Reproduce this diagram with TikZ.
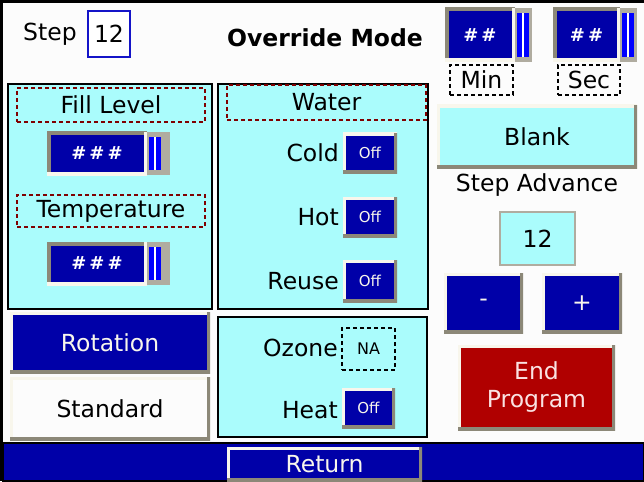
\documentclass[tikz,border=0pt]{standalone}
\usepackage{fontspec}
\setmainfont{DejaVu Sans}
\usetikzlibrary{positioning}

\definecolor{panelcyan}{RGB}{170,252,252}
\definecolor{hmiblue}{RGB}{0,0,168}
\definecolor{barblue}{RGB}{0,0,255}
\definecolor{hmired}{RGB}{176,0,0}
\definecolor{screenbg}{RGB}{252,252,252}
\definecolor{edgelight}{RGB}{248,246,236}
\definecolor{edgedark}{RGB}{140,136,120}
\definecolor{framegray}{RGB}{176,172,160}
\definecolor{dashred}{RGB}{128,0,0}
\definecolor{stepblue}{RGB}{20,20,200}
\definecolor{endtext}{RGB}{250,226,226}

\tikzset{
  every node/.style={font=\fontsize{23.5}{28}\selectfont,inner sep=0pt},
  bevel/.style={path picture={
    \draw[edgelight,line width=6pt] (path picture bounding box.south west) -- (path picture bounding box.north west) -- (path picture bounding box.north east);
    \draw[edgedark,line width=6pt] (path picture bounding box.north east) -- (path picture bounding box.south east) -- (path picture bounding box.south west);
  }},
  sunken/.style={path picture={
    \draw[edgedark,line width=7pt] (path picture bounding box.south west) -- (path picture bounding box.north west) -- (path picture bounding box.north east);
    \draw[edgelight,line width=7pt] (path picture bounding box.north east) -- (path picture bounding box.south east) -- (path picture bounding box.south west);
  }},
  panel/.style={shape=rectangle,fill=panelcyan,draw=black,line width=1.5pt},
  tagbox/.style={shape=rectangle,draw=dashred,line width=1.5pt,dash pattern=on 4pt off 3pt},
  unitbox/.style={shape=rectangle,draw=black,line width=1.2pt,dash pattern=on 4pt off 3pt},
  button/.style={shape=rectangle,fill=hmiblue,text=edgelight,bevel},
  offbtn/.style={button,font=\fontsize{15}{18}\selectfont},
  field/.style={shape=rectangle,fill=hmiblue,text=white,sunken,font=\fontsize{18}{20}\bfseries},
  slider/.style={shape=rectangle,fill=framegray,path picture={
    \fill[barblue] ([xshift=2pt,yshift=5pt]path picture bounding box.south west) rectangle ([xshift=7pt,yshift=-5pt]path picture bounding box.north west);
    \fill[white] ([xshift=7pt,yshift=5pt]path picture bounding box.south west) rectangle ([xshift=9pt,yshift=-5pt]path picture bounding box.north west);
    \fill[barblue] ([xshift=9pt,yshift=5pt]path picture bounding box.south west) rectangle ([xshift=14pt,yshift=-5pt]path picture bounding box.north west);
  }},
  lbl/.style={anchor=east}
}

\begin{document}
\begin{tikzpicture}[x=1pt,y=-1pt]

\path[fill=screenbg] (0,0) rectangle (644,481);
\useasboundingbox (0,0) rectangle (644,481);
\draw[black,line width=3pt] (1.5,481) -- (1.5,1.5) -- (644,1.5);

% header
\path (50,34) node (steplbl) {Step};
\path (109,34) node [shape=rectangle,draw=stepblue,line width=1.2pt,fill=white,minimum width=42pt,minimum height=46pt] (stepval) {12};
\path (325,38) node [font=\fontsize{23.5}{28}\bfseries] (title) {Override Mode};

\path (480,35) node [field,minimum width=70pt,minimum height=54pt] (minval) {\#\,\#};
\path (523.5,35) node [slider,minimum width=17pt,minimum height=54pt] (minbar) {};
\path (586.5,35) node [field,minimum width=67pt,minimum height=54pt] (secval) {\#\,\#};
\path (628.5,35) node [slider,minimum width=17pt,minimum height=54pt] (secbar) {};
\path (481.5,80) node [unitbox,minimum width=63pt,minimum height=30pt] (minlbl) {Min};
\path (589,80) node [unitbox,minimum width=62pt,minimum height=30pt] (seclbl) {Sec};

% fill level / temperature panel
\path (110,196.5) node [panel,minimum width=204pt,minimum height=225pt] (levelpanel) {};
\path (111,105) node [tagbox,minimum width=188pt,minimum height=34pt] (filllbl) {Fill Level};
\path (97,153.5) node [field,minimum width=100pt,minimum height=43pt] (fillval) {\#\,\#\,\#};
\path (158.5,153.5) node [slider,minimum width=23pt,minimum height=43pt] (fillbar) {};
\path (111,211) node [tagbox,minimum width=188pt,minimum height=32pt] (templbl) {Temperature};
\path (97,263.5) node [field,minimum width=100pt,minimum height=43pt] (tempval) {\#\,\#\,\#};
\path (158.5,263.5) node [slider,minimum width=23pt,minimum height=43pt] (tempbar) {};

% water panel
\path (323,196.5) node [panel,minimum width=210pt,minimum height=225pt] (waterpanel) {};
\path (326.5,102.5) node [tagbox,minimum width=199pt,minimum height=35pt] (waterlbl) {Water};
\path (370,153) node [offbtn,minimum width=54pt,minimum height=40pt] (coldbtn) {Off};
\path (370,217) node [offbtn,minimum width=54pt,minimum height=40pt] (hotbtn) {Off};
\path (370,281) node [offbtn,minimum width=54pt,minimum height=42pt] (reusebtn) {Off};
\path (339,153) node [lbl] (coldlbl) {Cold};
\path (339,217) node [lbl] (hotlbl) {Hot};
\path (339,281) node [lbl] (reuselbl) {Reuse};

% ozone / heat panel
\path (322.5,377) node [panel,minimum width=209pt,minimum height=120pt] (ozonepanel) {};
\path (368.5,349) node [unitbox,fill=panelcyan,minimum width=53pt,minimum height=42pt,font=\fontsize{16}{18}\selectfont] (ozoneval) {NA};
\path (368.5,408) node [offbtn,minimum width=53pt,minimum height=40pt] (heatbtn) {Off};
\path (338,348) node [lbl] (ozonelbl) {Ozone};
\path (338,410) node [lbl] (heatlbl) {Heat};

% mode buttons
\path (110,342.5) node [button,minimum width=200pt,minimum height=61pt] (rotbtn) {Rotation};
\path (110,408.5) node [button,fill=screenbg,text=black,minimum width=200pt,minimum height=63pt] (stdbtn) {Standard};

% right column
\path (537,136.5) node [button,fill=panelcyan,text=black,minimum width=200pt,minimum height=63pt] (blankbtn) {Blank};
\path (537,185) node (advlbl) {Step Advance};
\path (537.5,238.5) node [shape=rectangle,fill=panelcyan,draw=framegray,line width=1.5pt,minimum width=75pt,minimum height=53pt] (advval) {12};
\path (483.5,303) node [button,minimum width=79pt,minimum height=60pt] (minusbtn) {-};
\path (582,303) node [button,minimum width=80pt,minimum height=60pt] (plusbtn) {+};
\path (536.5,387.5) node [button,fill=hmired,text=endtext,align=center,minimum width=157pt,minimum height=85pt] (endbtn) {End\\Program};

% bottom bar
\path (323.5,462) node [shape=rectangle,fill=hmiblue,draw=black,line width=1.5pt,minimum width=641pt,minimum height=38pt] (bottombar) {};
\path (324.5,464) node [button,minimum width=195pt,minimum height=34pt] (returnbtn) {Return};

\end{tikzpicture}
\end{document}
